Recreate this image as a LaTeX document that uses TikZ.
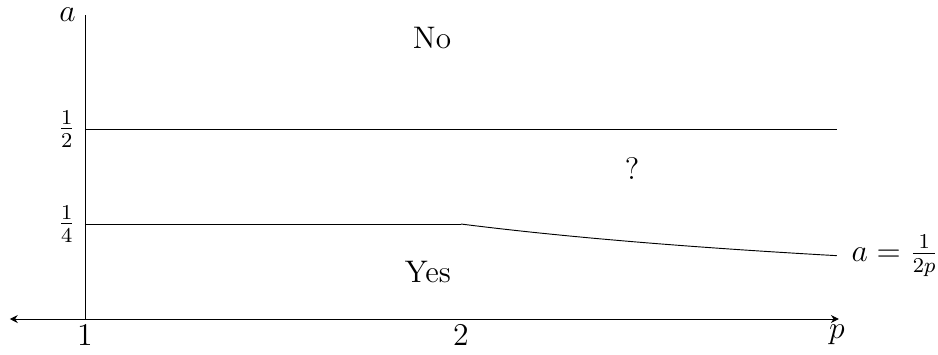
\documentclass[tikz,border=0pt]{standalone}
\usetikzlibrary{arrows.meta}
\begin{document}
\begin{tikzpicture}[x=5cm,y=5.053cm,
  every node/.style={font=\fontsize{11.8}{14}\selectfont},
  axis/.style={line width=0.35pt},
  level/.style={line width=0.35pt},
  tip/.style={{Stealth[length=3pt,width=3pt]}-{Stealth[length=3pt,width=3pt]}}]
\useasboundingbox (0.774,-0.0921) rectangle (3.2686,0.8395);
% axes
\coordinate (xl) at (0.80,0);
\coordinate (xr) at (3.005,0);
\coordinate (o) at (1,0);
\coordinate (yt) at (1,0.8);
\draw[axis,tip] (xl) -- (xr);
\draw[axis] (o) -- (yt);
\node[left] (alab) at (yt) {$a$};
\node[below,inner sep=2pt] (plab) at (3,0) {$p$};
\node[below,inner sep=2pt] (t1) at (1,0) {$1$};
\node[below,inner sep=2pt] (t2) at (2,0) {$2$};
% levels
\coordinate (h0) at (1,0.5);
\coordinate (h1) at (3,0.5);
\coordinate (q0) at (1,0.25);
\coordinate (q1) at (2,0.25);
\coordinate (q2) at (3,{1/6});
\draw[level] (h0) -- (h1);
\draw[level] (q0) -- (q1);
\draw[level] plot[domain=2:3,samples=60] (\x,{1/(2*\x)});
\node[left] (lh) at (h0) {$\frac{1}{2}$};
\node[left] (lq) at (q0) {$\frac{1}{4}$};
\node[right,xshift=2pt] (lc) at (q2) {$a=\frac{1}{2p}$};
% regions
\node (no) at (1.923,0.739) {No};
\node (qm) at (2.455,0.397) {?};
\node (yes) at (1.912,0.124) {Yes};
\end{tikzpicture}
\end{document}
